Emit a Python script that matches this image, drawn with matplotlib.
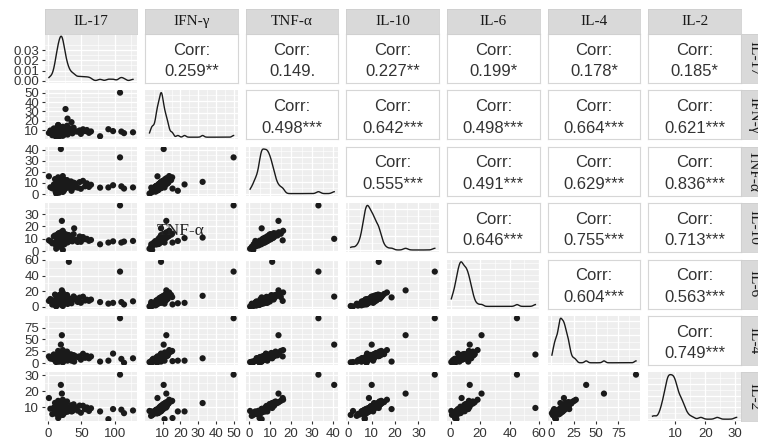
import numpy as np
import matplotlib
matplotlib.use('Agg')
import matplotlib.pyplot as plt
from matplotlib.ticker import FixedLocator, MaxNLocator

# ---- data (one entry per sample, same order in every list) ----
VARS = ['IL-17', 'IFN-γ', 'TNF-α', 'IL-10', 'IL-6', 'IL-4', 'IL-2']

il17 = [3.2, 6.1, 8.4, 9.3, 10.2, 11.1, 11.8, 12.4, 13.2, 13.7, 14.3, 14.9, 15.4, 15.8, 16.3, 16.8,
        17.1, 17.4, 17.9, 18.2, 18.6, 18.8, 19.1, 19.4, 19.7, 20.1, 20.3, 20.6, 20.9, 21.2, 21.5,
        21.9, 22.4, 22.8, 23.3, 23.7, 24.4, 25.1, 26.2, 27.1, 28.3, 29.2, 30.4, 32.1, 34.2, 36.3,
        38.2, 41.1, 44.3, 47.2, 49.1, 52.3, 55.4, 58.1, 61.2, 64.3, 12.2, 13.4, 15.2, 16.1, 18.4,
        20.2, 22.1, 24.1, 25.3, 27.4, 14.1, 21.3, 23.1, 17.2,
        108, 19, 31, 20.5, 26, 35, 29, 15, 1, 22, 12, 39, 78, 90.5, 97.5, 110, 114, 127.5]
ifn = [9.6, 4.6, 11.8, 6.3, 11.4, 5.9, 8.5, 9.1, 10.2, 7.5, 8.0, 15.3, 5.7, 11.1, 3.4, 9.7,
       13.2, 6.9, 8.8, 6.8, 9.8, 8.9, 12.1, 7.7, 10.3, 4.3, 12.8, 7.6, 8.2, 9.5, 10.7, 13.6,
       6.4, 12.3, 4.9, 9.9, 11.2, 7.9, 9.1, 9.4, 14.7, 5.3, 10.6, 7.8, 11.9, 6.6, 12.6, 8.7,
       8.4, 9.7, 6.0, 10.9, 9.0, 10.1, 7.1, 8.6, 3.9, 11.5, 7.4, 13.4, 7.9, 9.3, 9.8, 6.5,
       10.4, 8.7, 9.2, 12.4, 7.0, 10.0,
       50, 10.5, 9, 12, 32.5, 18.5, 22.3, 15.5, 7, 4, 2.5, 9, 3.5, 11, 9, 8.5, 6.8, 7.7]
tnf = [6.1, 5.2, 8.6, 7.4, 13.5, 2.2, 9.9, 5.4, 12.1, 3.6, 9.2, 15.1, 6.8, 8.3, 1.3, 6.6,
       10.6, 7.5, 10.3, 3.2, 11.7, 8.1, 14.2, 4.4, 7.5, 4.6, 9.8, 8.9, 5.1, 10.9, 7.9, 16.2,
       7.3, 9.6, 2.9, 8.8, 12.8, 6.2, 10.1, 6.4, 12.6, 5.7, 8.2, 8.5, 11.4, 6.7, 10.3, 9.5,
       5.8, 10.8, 4.8, 11.9, 7.0, 9.7, 6.5, 8.4, 3.4, 9.4, 7.8, 11.8, 5.5, 9.0, 7.7, 4.0,
       10.5, 7.1, 8.7, 12.3, 6.0, 9.8,
       33, 40.5, 11, 14, 11, 3, 8.7, 5, 16, 2, 0.5, 6, 5.8, 6, 8, 7, 5, 6]
il10 = [8.2, 6.4, 12.0, 6.9, 12.7, 5.6, 11.3, 7.4, 13.0, 5.8, 10.4, 14.1, 8.1, 9.9, 3.6, 10.1,
        11.9, 8.8, 9.6, 7.2, 12.4, 7.6, 15.3, 6.1, 10.9, 4.7, 13.5, 8.3, 8.6, 10.6, 9.4, 16.5,
        7.7, 12.9, 6.6, 8.8, 14.2, 6.3, 11.7, 9.6, 13.3, 7.1, 9.5, 10.3, 10.7, 8.0, 13.8, 9.2,
        7.5, 11.9, 7.6, 11.4, 9.7, 10.0, 8.4, 9.1, 4.1, 12.2, 8.9, 14.6, 6.8, 10.8, 9.0, 5.5,
        12.6, 8.1, 10.5, 12.8, 7.3, 11.2,
        37, 10, 13, 24.5, 11, 8.3, 10.6, 7, 8.8, 1, 2, 18.5, 5.6, 7, 8, 7, 7.8, 8.3]
il6 = [9.9, 2.8, 8.1, 7.9, 15.6, 1.8, 6.7, 9.6, 13.8, 6.9, 10.9, 12.4, 4.1, 12.7, 3.9, 6.3,
       14.9, 5.2, 11.6, 5.9, 9.3, 8.8, 16.4, 4.6, 10.4, 2.4, 10.2, 9.4, 7.1, 12.8, 8.2, 18.3,
       5.8, 11.9, 4.9, 7.4, 13.6, 6.7, 10.8, 8.5, 15.1, 3.6, 11.3, 7.2, 9.8, 8.3, 13.2, 10.1,
       6.2, 11.7, 5.1, 12.9, 8.0, 9.0, 7.6, 9.2, 1.5, 11.1, 7.0, 14.4, 5.5, 10.6, 8.7, 4.4,
       11.4, 6.5, 9.9, 12.0, 7.4, 10.3,
       45, 13, 57.5, 21, 14, 4.5, 5, 3, 7.5, 1, 0.5, 12, 6, 4, 5, 6, 3, 7]
il4 = [9.5, 8.9, 18.2, 7.1, 16.3, 3.6, 16.8, 12.9, 14.6, 10.4, 11.2, 25.6, 6.5, 13.4, 2.8, 14.7,
       21.3, 8.7, 12.1, 5.4, 19.1, 9.6, 18.8, 9.8, 15.5, 7.3, 15.9, 10.5, 12.2, 13.7, 17.2, 27.4,
       11.6, 14.8, 4.5, 12.4, 22.5, 7.7, 16.1, 9.2, 24.2, 8.4, 13.1, 10.7, 18.4, 8.1, 16.7, 14.3,
       12.5, 14.2, 7.0, 19.6, 11.0, 15.2, 9.9, 13.8, 5.8, 17.6, 10.1, 20.8, 8.9, 13.9, 12.0, 6.2,
       17.9, 11.8, 12.7, 20.1, 9.3, 15.7,
       95, 39, 18, 59, 10, 5, 5, 4, 14, 1.5, 2, 3, 3, 5, 20, 8.7, 0.5, 10]
il2 = [8.9, 5.5, 9.6, 8.1, 12.6, 6.1, 10.2, 7.3, 11.8, 6.2, 9.6, 13.9, 7.8, 10.7, 4.4, 8.2,
       12.1, 7.1, 10.5, 6.0, 11.3, 8.8, 13.1, 7.6, 8.7, 5.2, 11.9, 9.1, 7.0, 10.0, 9.9, 14.6,
       8.4, 10.4, 6.7, 9.4, 12.3, 6.6, 10.6, 8.0, 13.5, 7.2, 9.3, 9.0, 11.1, 7.4, 11.7, 9.8,
       7.7, 10.9, 6.4, 10.8, 8.6, 9.7, 7.5, 9.2, 5.6, 10.3, 8.5, 12.9, 7.9, 10.1, 9.3, 6.3,
       11.4, 8.3, 9.5, 11.8, 7.3, 10.2,
       30.5, 24, 9.4, 18.5, 12.5, 7.2, 7.2, 3, 15.7, 5, 7.5, 8.7, 7.2, 2.3, 8.7, 8.3, 6.1, 7.8]

# axis breaks per variable
BREAKS = [[0, 50, 100], [10, 20, 30, 40, 50], [0, 10, 20, 30, 40], [0, 10, 20, 30],
          [0, 20, 40, 60], [0, 25, 50, 75], [10, 20, 30]]
DENS_BREAKS = [0.00, 0.01, 0.02, 0.03]

# reported correlations (upper triangle, row by row)
CORR = {(0, 1): '0.259**', (0, 2): '0.149.', (0, 3): '0.227**', (0, 4): '0.199*',
        (0, 5): '0.178*', (0, 6): '0.185*',
        (1, 2): '0.498***', (1, 3): '0.642***', (1, 4): '0.498***', (1, 5): '0.664***',
        (1, 6): '0.621***',
        (2, 3): '0.555***', (2, 4): '0.491***', (2, 5): '0.629***', (2, 6): '0.836***',
        (3, 4): '0.646***', (3, 5): '0.755***', (3, 6): '0.713***',
        (4, 5): '0.604***', (4, 6): '0.563***',
        (5, 6): '0.749***'}

DATA = [np.array(v, float) for v in (il17, ifn, tnf, il10, il6, il4, il2)]

W, H = 758, 442
SERIF = ['Liberation Serif', 'DejaVu Serif']
SANS = ['Liberation Sans', 'DejaVu Sans']
BG = '#EEEEEE'
STRIP = '#D9D9D9'
ADJUST = 0.8   # a bit narrower than the default bandwidth


def kde(x):
    # gaussian density, bandwidth like R's bw.nrd0 (times ADJUST)
    n = len(x)
    sd = np.std(x, ddof=1)
    iqr = np.subtract(*np.percentile(x, [75, 25]))
    bw = ADJUST * 0.9 * min(sd, iqr / 1.34) * n ** -0.2
    gx = np.linspace(x.min(), x.max(), 512)
    gy = np.exp(-0.5 * ((gx[:, None] - x[None, :]) / bw) ** 2).sum(1) / (n * bw * np.sqrt(2 * np.pi))
    return gx, gy


def lims(v):
    lo, hi = v.min(), v.max()
    e = (hi - lo) * 0.05
    return lo - e, hi + e


def minors(br, lo, hi):
    st = br[1] - br[0]
    ext = [br[0] - st] + list(br) + [br[-1] + st]
    m = [(a + b) / 2 for a, b in zip(ext[:-1], ext[1:])]
    return [v for v in m if lo <= v <= hi]


def px_axes(fig, x, y, w, h):
    return fig.add_axes([x / W, 1 - (y + h) / H, w / W, h / H])


def style_grid(ax, xb, yb, xl, yl):
    ax.set_facecolor(BG)
    ax.set_xlim(*xl); ax.set_ylim(*yl)
    ax.xaxis.set_major_locator(FixedLocator(xb))
    ax.yaxis.set_major_locator(FixedLocator(yb))
    ax.xaxis.set_minor_locator(FixedLocator(minors(xb, *xl)))
    ax.yaxis.set_minor_locator(FixedLocator(minors(yb, *yl)))
    ax.grid(True, which='major', color='white', lw=0.9)
    ax.grid(True, which='minor', color='white', lw=0.45)
    ax.set_axisbelow(True)
    for s in ax.spines.values():
        s.set_visible(False)
    ax.tick_params(which='both', length=0, labelbottom=False, labelleft=False)


fig = plt.figure(figsize=(W / 100, H / 100), dpi=100)
fig.patch.set_facecolor('white')

X0, DX, PW = 44.7, 100.6, 92.5
Y0, DY, PH = 34.0, 56.4, 49.0
nv = len(VARS)

for i in range(nv):
    for j in range(nv):
        ax = px_axes(fig, X0 + j * DX, Y0 + i * DY, PW, PH)
        xl = lims(DATA[j])
        if i == j:
            gx, gy = kde(DATA[j])
            yl = (-0.05 * gy.max(), 1.05 * gy.max())
            if i == 0:
                yb = DENS_BREAKS
            else:
                yb = list(MaxNLocator(4).tick_values(0, gy.max()))
            style_grid(ax, BREAKS[j], yb, xl, yl)
            ax.plot(gx, gy, color='#1A1A1A', lw=1.0)
        elif i > j:
            yl = lims(DATA[i])
            style_grid(ax, BREAKS[j], BREAKS[i], xl, yl)
            ax.scatter(DATA[j], DATA[i], s=20, color='#1A1A1A', edgecolors='none', zorder=3)
        else:
            ax.set_facecolor('white')
            ax.set_xticks([]); ax.set_yticks([])
            for s in ax.spines.values():
                s.set_color('#D6D6D6'); s.set_linewidth(0.8)
            ax.text(0.5, 0.67, 'Corr:', ha='center', va='center', fontsize=12,
                    color='#333333', family=SANS, transform=ax.transAxes)
            ax.text(0.5, 0.23, CORR[(i, j)], ha='center', va='center', fontsize=12,
                    color='#333333', family=SANS, transform=ax.transAxes)
            continue
        # outer axis labels
        if j == 0:
            ax.tick_params(axis='y', which='major', length=2.5, color='#333333', width=0.8,
                           labelleft=True, labelsize=9.5, labelcolor='#333333', pad=1.5)
            for t in ax.get_yticklabels():
                t.set_family(SANS)
            if i == 0:
                ax.set_yticklabels(['%.2f' % v for v in DENS_BREAKS])
        if i == nv - 1:
            ax.tick_params(axis='x', which='major', length=2.5, color='#333333', width=0.8,
                           labelbottom=True, labelsize=9.5, labelcolor='#333333', pad=2)
            for t in ax.get_xticklabels():
                t.set_family(SANS)

# top strips
for j, name in enumerate(VARS):
    sa = px_axes(fig, X0 + j * DX, 9, PW, 25)
    sa.set_facecolor(STRIP)
    sa.set_xticks([]); sa.set_yticks([])
    for s in sa.spines.values():
        s.set_color('#CFCFCF'); s.set_linewidth(0.6)
    sa.text(0.5, 0.5, name, ha='center', va='center', fontsize=11, family=SERIF,
            color='#1A1A1A', transform=sa.transAxes)

# right strips (cut by the figure edge)
for i, name in enumerate(VARS):
    sa = px_axes(fig, 741, Y0 + i * DY, 25, PH)
    sa.set_facecolor(STRIP)
    sa.set_xticks([]); sa.set_yticks([])
    for s in sa.spines.values():
        s.set_color('#CFCFCF'); s.set_linewidth(0.6)
    sa.text(0.5, 0.5, name, ha='center', va='center', fontsize=11, family=SERIF,
            color='#1A1A1A', rotation=-90, transform=sa.transAxes)

# stray label left in the IFN-γ / IL-10 panel of the original
fig.text(181 / W, 1 - 231 / H, 'TNF-α', ha='center', va='center', fontsize=12.5,
         family=SERIF, color='#222222')

fig.savefig('out.png', dpi=100)
